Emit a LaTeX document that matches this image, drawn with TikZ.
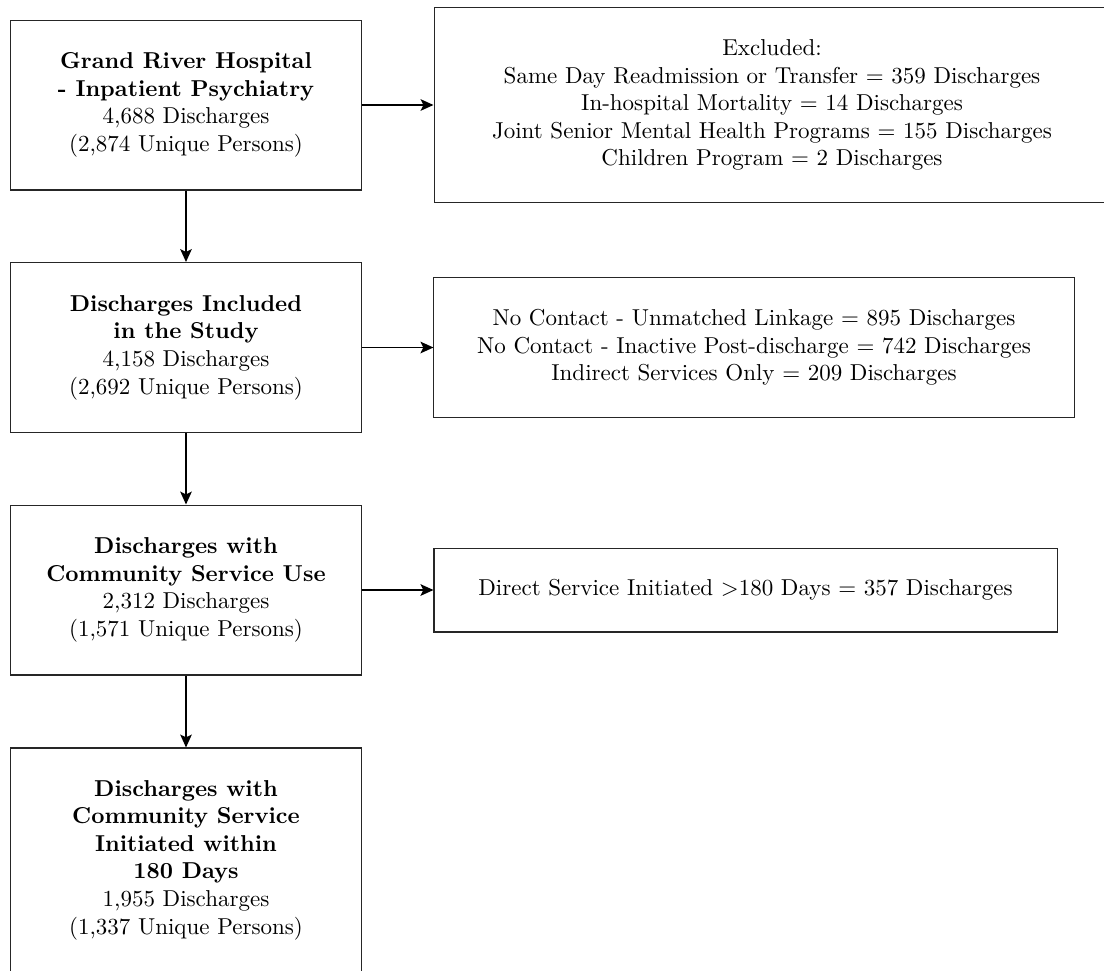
\documentclass[tikz,border=0pt]{standalone}
\usetikzlibrary{arrows.meta}
\begin{document}
\begin{tikzpicture}[x=0.4348pt, y=-0.4348pt,
  flowbox/.style={draw=black!85, line width=0.45pt, align=center,
    minimum width=153pt, minimum height=73.9pt, inner ysep=0pt},
  sidebox/.style={draw=black!85, line width=0.45pt, align=center, inner sep=0pt},
  flowarrow/.style={line width=0.85pt, -{Stealth[length=5.6pt, width=5pt, inset=1.2pt]}}]
\useasboundingbox (0,0) rectangle (1104,970);
\begin{scope}
\clip (0,0) rectangle (1104,970);

% main column
\node[flowbox] (hosp) at (186,105)
  {\textbf{Grand River Hospital}\\\textbf{- Inpatient Psychiatry}\\4,688 Discharges\\(2,874 Unique Persons)};
\node[flowbox] (incl) at (186,347.5)
  {\textbf{Discharges Included}\\\textbf{in the Study}\\4,158 Discharges\\(2,692 Unique Persons)};
\node[flowbox] (comm) at (186,590)
  {\textbf{Discharges with}\\\textbf{Community Service Use}\\2,312 Discharges\\(1,571 Unique Persons)};
\node[flowbox, minimum height=97.4pt] (init) at (186,860)
  {\textbf{Discharges with}\\\textbf{Community Service}\\\textbf{Initiated within}\\\textbf{180 Days}\\1,955 Discharges\\(1,337 Unique Persons)};

% exclusion boxes
\node[sidebox, minimum width=293.9pt, minimum height=85.2pt] (excl) at (772,105)
  {Excluded:\\Same Day Readmission or Transfer = 359 Discharges\\In-hospital Mortality = 14 Discharges\\Joint Senior Mental Health Programs = 155 Discharges\\Children Program = 2 Discharges};
\node[sidebox, minimum width=278.3pt, minimum height=60.9pt] (nocont) at (754,347.5)
  {No Contact - Unmatched Linkage = 895 Discharges\\No Contact - Inactive Post-discharge = 742 Discharges\\Indirect Services Only = 209 Discharges};
\node[sidebox, minimum width=270.9pt, minimum height=36.5pt] (late) at (745.5,590)
  {Direct Service Initiated {\textgreater}180 Days = 357 Discharges};

% connectors
\draw[flowarrow] (hosp) -- (incl);
\draw[flowarrow] (incl) -- (comm);
\draw[flowarrow] (comm) -- (init);
\draw[flowarrow] (hosp.east) -- (excl.west);
\draw[flowarrow] (incl.east) -- (nocont.west);
\draw[flowarrow] (comm.east) -- (late.west);
\end{scope}
\end{tikzpicture}
\end{document}
